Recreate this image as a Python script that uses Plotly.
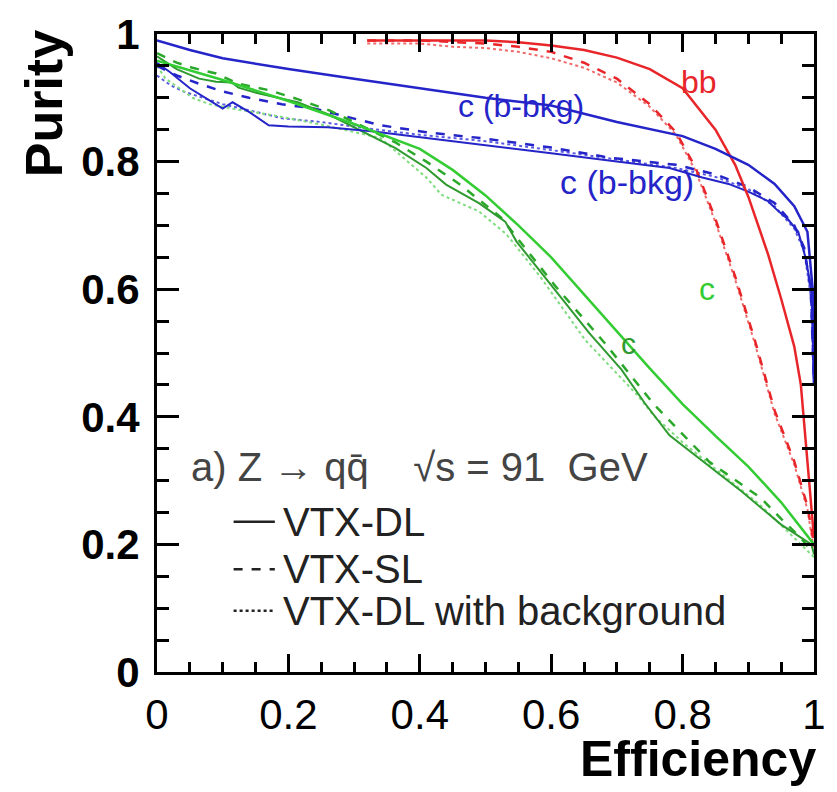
import plotly.graph_objects as go

# ---- data ----
# b-tag (red)
bb_dl_eff = [0.32, 0.40, 0.50, 0.55, 0.60, 0.65, 0.70, 0.75, 0.80, 0.85, 0.88, 0.90, 0.93, 0.95, 0.97, 0.98, 0.99, 1.00]
bb_dl_pur = [0.99, 0.99, 0.99, 0.987, 0.982, 0.975, 0.963, 0.945, 0.915, 0.85, 0.795, 0.745, 0.655, 0.585, 0.51, 0.45, 0.33, 0.21]

bb_sl_eff = [0.32, 0.40, 0.50, 0.55, 0.60, 0.65, 0.70, 0.75, 0.79, 0.82, 0.85, 0.88, 0.91, 0.94, 0.97, 0.99, 1.00]
bb_sl_pur = [0.99, 0.99, 0.985, 0.98, 0.972, 0.955, 0.93, 0.89, 0.846, 0.79, 0.71, 0.62, 0.52, 0.41, 0.33, 0.26, 0.20]

bb_bkg_eff = [0.32, 0.40, 0.45, 0.50, 0.55, 0.60, 0.65, 0.70, 0.75, 0.79, 0.82, 0.85, 0.88, 0.91, 0.94, 0.97, 0.99, 1.00]
bb_bkg_pur = [0.985, 0.985, 0.98, 0.978, 0.972, 0.962, 0.947, 0.924, 0.886, 0.842, 0.785, 0.705, 0.615, 0.515, 0.405, 0.325, 0.255, 0.19]

# c-tag, b background (blue)
cb_dl_eff = [0.0, 0.05, 0.10, 0.20, 0.30, 0.40, 0.50, 0.60, 0.70, 0.80, 0.85, 0.90, 0.94, 0.97, 0.99, 0.998, 1.0]
cb_dl_pur = [0.99, 0.975, 0.962, 0.945, 0.93, 0.915, 0.90, 0.888, 0.862, 0.84, 0.82, 0.795, 0.765, 0.73, 0.69, 0.60, 0.45]

cb_dl2_eff = [0.0, 0.02, 0.05, 0.08, 0.10, 0.115, 0.14, 0.17, 0.20, 0.26, 0.33, 0.41, 0.50, 0.60, 0.70, 0.78, 0.83, 0.87, 0.90, 0.93, 0.946, 0.96, 0.976, 0.987, 0.996, 1.0]
cb_dl2_pur = [0.955, 0.94, 0.915, 0.895, 0.883, 0.893, 0.878, 0.857, 0.855, 0.854, 0.847, 0.837, 0.826, 0.813, 0.80, 0.79, 0.775, 0.765, 0.753, 0.738, 0.722, 0.71, 0.69, 0.65, 0.60, 0.45]

cb_sl_eff = [0.0, 0.03, 0.064, 0.10, 0.14, 0.19, 0.24, 0.29, 0.34, 0.41, 0.50, 0.60, 0.69, 0.79, 0.85, 0.90, 0.94, 0.97, 0.985, 0.995, 1.0]
cb_sl_pur = [0.95, 0.935, 0.922, 0.91, 0.90, 0.89, 0.883, 0.87, 0.857, 0.846, 0.836, 0.822, 0.806, 0.795, 0.78, 0.76, 0.735, 0.70, 0.665, 0.60, 0.45]

cb_bkg_eff = [0.0, 0.02, 0.04, 0.07, 0.10, 0.15, 0.19, 0.25, 0.32, 0.40, 0.50, 0.60, 0.70, 0.79, 0.85, 0.90, 0.94, 0.97, 0.985, 0.995, 1.0]
cb_bkg_pur = [0.935, 0.92, 0.91, 0.90, 0.89, 0.878, 0.868, 0.862, 0.852, 0.842, 0.832, 0.818, 0.803, 0.79, 0.776, 0.757, 0.73, 0.695, 0.66, 0.59, 0.45]

# c-tag (green)
c_dl_eff = [0.0, 0.1, 0.2, 0.3, 0.4, 0.45, 0.5, 0.55, 0.6, 0.65, 0.7, 0.75, 0.8, 0.85, 0.9, 0.95, 1.0]
c_dl_pur = [0.958, 0.928, 0.895, 0.859, 0.82, 0.787, 0.747, 0.70, 0.65, 0.592, 0.535, 0.476, 0.42, 0.37, 0.322, 0.266, 0.20]

c_dl2_eff = [0.0, 0.03, 0.064, 0.09, 0.114, 0.124, 0.154, 0.214, 0.263, 0.314, 0.363, 0.41, 0.44, 0.49, 0.53, 0.547, 0.598, 0.658, 0.707, 0.742, 0.78, 0.826, 0.89, 0.95, 0.996, 1.0]
c_dl2_pur = [0.965, 0.945, 0.93, 0.925, 0.924, 0.916, 0.907, 0.893, 0.873, 0.846, 0.821, 0.79, 0.764, 0.735, 0.706, 0.675, 0.609, 0.531, 0.474, 0.422, 0.371, 0.334, 0.283, 0.231, 0.20, 0.185]

c_sl_eff = [0.0, 0.03, 0.054, 0.09, 0.124, 0.17, 0.214, 0.263, 0.314, 0.363, 0.41, 0.46, 0.523, 0.607, 0.682, 0.756, 0.84, 0.92, 0.95, 0.98, 1.0]
c_sl_pur = [0.97, 0.955, 0.947, 0.938, 0.922, 0.912, 0.898, 0.88, 0.855, 0.83, 0.80, 0.765, 0.713, 0.604, 0.515, 0.42, 0.33, 0.272, 0.24, 0.21, 0.185]

c_bkg_eff = [0.0, 0.013, 0.034, 0.054, 0.08, 0.12, 0.18, 0.25, 0.34, 0.41, 0.433, 0.49, 0.532, 0.583, 0.652, 0.732, 0.756, 0.80, 0.86, 0.92, 0.96, 1.0]
c_bkg_pur = [0.95, 0.93, 0.915, 0.90, 0.89, 0.882, 0.872, 0.858, 0.837, 0.775, 0.748, 0.722, 0.686, 0.62, 0.52, 0.433, 0.402, 0.36, 0.31, 0.26, 0.22, 0.18]

tick_vals = [0, 0.2, 0.4, 0.6, 0.8, 1]
tick_text = ["0", "0.2", "0.4", "0.6", "0.8", "1"]

RED = "#e8262a"
BLUE = "#2424c8"
GREEN = "#33cc33"
DKGREEN = "#2f9a2f"
FONT = "Liberation Sans, Arial, Helvetica, sans-serif"

fig = go.Figure()

def add(x, y, color, dash, width):
    fig.add_trace(go.Scatter(x=x, y=y, mode="lines",
                             line=dict(color=color, dash=dash, width=width),
                             showlegend=False, hoverinfo="skip"))

# background (dotted) first
add(bb_bkg_eff, bb_bkg_pur, "#f06a6a", "dot", 2)
add(cb_bkg_eff, cb_bkg_pur, "#5a5ae0", "dot", 2)
add(c_bkg_eff, c_bkg_pur, "#7fdc7f", "dot", 2)
# dashed
add(bb_sl_eff, bb_sl_pur, RED, "dash", 2.5)
add(cb_sl_eff, cb_sl_pur, BLUE, "dash", 2.5)
add(c_sl_eff, c_sl_pur, "#2aa82a", "dash", 2.5)
# solid
add(c_dl2_eff, c_dl2_pur, DKGREEN, "solid", 2)
add(cb_dl2_eff, cb_dl2_pur, BLUE, "solid", 2)
add(bb_dl_eff, bb_dl_pur, RED, "solid", 2.5)
add(cb_dl_eff, cb_dl_pur, BLUE, "solid", 2.5)
add(c_dl_eff, c_dl_pur, GREEN, "solid", 2.5)

axis_common = dict(range=[0, 1], showgrid=False, zeroline=False,
                   showline=True, linecolor="black", linewidth=3, mirror="allticks",
                   ticks="inside", tickcolor="black", tickwidth=3,
                   tickvals=tick_vals, ticktext=tick_text, fixedrange=True)

fig.update_xaxes(**axis_common, ticklen=18,
                 minor=dict(ticks="inside", ticklen=10, tickwidth=3, tickcolor="black", dtick=0.05, tick0=0, showgrid=False),
                 tickfont=dict(family=FONT, size=42, color="black"),
                 ticklabelstandoff=4)
fig.update_yaxes(**axis_common, ticklen=22,
                 minor=dict(ticks="inside", ticklen=12, tickwidth=3, tickcolor="black", dtick=0.05, tick0=0, showgrid=False),
                 tickfont=dict(family=FONT, size=42, color="black", weight="bold"),
                 ticklabelstandoff=6)

W, H = 837, 792
L, R, T, B = 157, 826, 27, 672

def px(X):
    return (X - L) / (R - L)

def py(Y):
    return (B - Y) / (B - T)

ann = []
def text(X, Y, s, size, color, xanchor="center", weight="normal", angle=0):
    ann.append(dict(x=px(X), y=py(Y), xref="paper", yref="paper", text=s, showarrow=False,
                    xanchor=xanchor, yanchor="middle", textangle=angle,
                    font=dict(family=FONT, size=size, color=color, weight=weight)))

# axis titles
text(708, 760, "Efficiency", 50, "black", weight="bold")
text(42, 98, "Purity", 52, "black", weight="bold", angle=-90)

# curve labels
text(709, 76, "bb", 32, RED)
text(528, 100, "c (b-bkg)", 32, BLUE)
text(636, 177, "c (b-bkg)", 34, BLUE)
text(717, 285, "c", 32, GREEN)
text(637, 340, "c", 30, DKGREEN)

# legend
text(190, 465, "a) Z → qq̄\u00a0\u00a0\u00a0\u00a0√s\u00a0=\u00a091\u00a0\u00a0GeV", 40, "#444444", xanchor="left")
text(283, 520, "VTX-DL", 40, "#222222", xanchor="left")
text(283, 568, "VTX-SL", 40, "#222222", xanchor="left")
text(283, 610, "VTX-DL with background", 40, "#222222", xanchor="left")

shapes = []
for yy, dash in [(520, "solid"), (568, "dash"), (610, "dot")]:
    shapes.append(dict(type="line", xref="paper", yref="paper",
                       x0=px(235), x1=px(277), y0=py(yy), y1=py(yy),
                       line=dict(color="#222222", width=2.5, dash=dash)))

fig.update_layout(width=W, height=H,
                  margin=dict(l=L, r=W - R, t=T, b=H - B),
                  plot_bgcolor="white", paper_bgcolor="white",
                  annotations=ann, shapes=shapes, showlegend=False)

# remove the browser's default 8px body margin so the figure fills the window
fig.write_html("out.html", config={"displayModeBar": False},
               post_script="document.body.style.margin='0';document.body.style.overflow='hidden';")
